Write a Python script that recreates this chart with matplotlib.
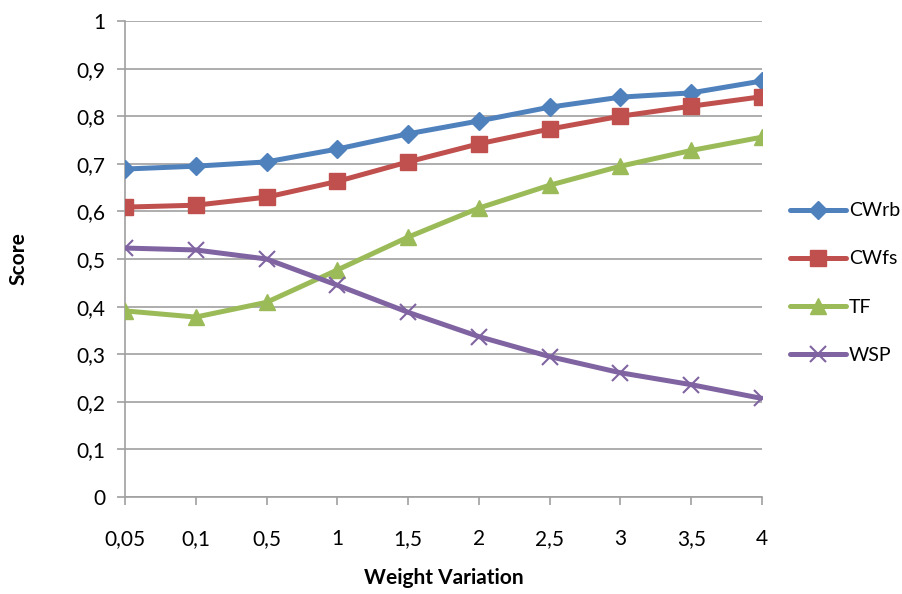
import matplotlib
matplotlib.use("Agg")
import matplotlib.pyplot as plt
from matplotlib.ticker import FuncFormatter

categories = ["0,05", "0,1", "0,5", "1", "1,5", "2", "2,5", "3", "3,5", "4"]
cwrb = [0.689, 0.695, 0.704, 0.731, 0.763, 0.790, 0.819, 0.840, 0.849, 0.874]
cwfs = [0.609, 0.613, 0.630, 0.663, 0.704, 0.742, 0.773, 0.800, 0.821, 0.841]
tf   = [0.391, 0.378, 0.409, 0.477, 0.546, 0.607, 0.655, 0.695, 0.728, 0.756]
wsp  = [0.523, 0.519, 0.500, 0.445, 0.388, 0.337, 0.295, 0.261, 0.236, 0.207]
yticks = [0, 0.1, 0.2, 0.3, 0.4, 0.5, 0.6, 0.7, 0.8, 0.9, 1]

plt.rcParams['font.family'] = ['Lato', 'DejaVu Sans']

fig = plt.figure(figsize=(9.03, 5.94), dpi=100)
ax = fig.add_axes([125/903, 97/594, (762-125)/903, (497-21)/594])

x = list(range(len(categories)))
series = [
    ("CWrb", cwrb, "#4F81BD", "D", 9, 1),
    ("CWfs", cwfs, "#C0504D", "s", 11, 1),
    ("TF", tf, "#9BBB59", "^", 12, 1),
    ("WSP", wsp, "#8064A2", "x", 11, 1.5),
]
for name, vals, col, mk, ms, mew in series:
    ax.plot(x, vals, color=col, lw=3.6, marker=mk, markersize=ms,
            markeredgewidth=mew, markeredgecolor=col, markerfacecolor=col,
            label=name, solid_capstyle='round', zorder=3)

ax.set_xlim(0, 9)
ax.set_ylim(0, 1)
ax.set_xticks(x)
ax.set_xticklabels(categories)
ax.set_yticks(yticks)
ax.yaxis.set_major_formatter(FuncFormatter(lambda v, p: ("%g" % round(v, 1)).replace(".", ",")))
ax.grid(axis='y', color='#A0A0A0', lw=1.2)
ax.set_axisbelow(True)
for s in ['top', 'right']:
    ax.spines[s].set_visible(False)
for s in ['left', 'bottom']:
    ax.spines[s].set_color('#A0A0A0')
    ax.spines[s].set_linewidth(1.2)
ax.tick_params(axis='both', colors='#A0A0A0', labelcolor='black', labelsize=15,
               length=6, width=1.2)
ax.tick_params(axis='x', pad=17)
ax.tick_params(axis='y', pad=8)
ax.set_xlabel("Weight Variation", fontsize=15, fontweight='bold')
ax.set_ylabel("Score", fontsize=15, fontweight='bold')
ax.xaxis.set_label_coords(0.5, (497-578)/476, transform=ax.transAxes)
ax.yaxis.set_label_coords((18-125)/637, 0.5, transform=ax.transAxes)
ax.xaxis.label.set_va('center')
ax.yaxis.label.set_va('center')

leg = ax.legend(loc='center left', bbox_to_anchor=(780/903, (594-283)/594),
                bbox_transform=fig.transFigure, frameon=False, fontsize=14,
                handlelength=2.9, handletextpad=0.15, labelspacing=1.6,
                borderpad=0)

fig.savefig("out.png", dpi=100)
